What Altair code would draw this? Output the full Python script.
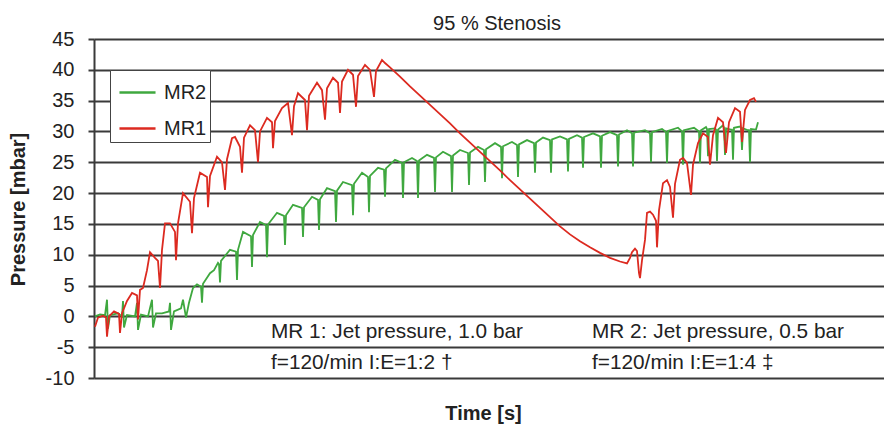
import altair as alt
import pandas as pd

# MR1 pressure trace: time index and pressure in mbar
mr1_t = [1, 4, 9, 12, 13, 15, 20, 25, 26, 28, 33, 38, 43, 44, 46, 49, 53, 56, 61, 64,
         66, 68, 71, 76, 81, 82, 84, 89, 96, 98, 100, 106, 113, 114, 116, 123, 128, 131, 133, 138,
         141, 146, 148, 150, 156, 161, 164, 166, 173, 178, 179, 181, 188, 194, 198, 200, 204, 211, 213, 215,
         223, 228, 231, 233, 239, 244, 246, 248, 254, 259, 262, 264, 271, 276, 280, 282, 288, 291,
         296, 306, 316, 326, 336, 346, 356, 366, 376, 386, 396, 406, 416, 426, 436, 446, 456,
         466, 476, 486, 496, 506, 516, 526, 533, 536, 538, 541, 543, 545, 546, 548, 551, 553,
         556, 559, 562, 563, 565, 569, 573, 576, 579, 581, 586, 589, 593, 597, 599, 604, 609, 614,
         616, 619, 624, 629, 632, 635, 641, 646, 648, 651, 656, 660, 662]
mr1_p = [-1.7, -0.2, 0.1, -0.2, -3.3, 0.0, 0.8, 0.4, -2.7, 0.5, 2.5, 3.8, 3.4, -0.5, 4.3, 4.6, 7.5, 10.4, 9.5, 9.0,
         4.6, 10.8, 15.1, 15.1, 13.7, 9.1, 15.1, 20.0, 18.6, 13.5, 19.2, 23.3, 22.6, 17.7, 22.8, 25.9, 25.0, 20.5, 25.5, 28.9,
         29.1, 27.5, 23.3, 29.0, 31.0, 30.2, 25.0, 30.0, 32.2, 31.5, 27.3, 31.7, 33.8, 34.6, 29.4, 34.1, 36.2, 35.1, 30.2, 35.8,
         37.9, 36.7, 31.9, 37.0, 38.7, 37.9, 33.0, 38.1, 40.0, 39.2, 34.0, 39.0, 40.8, 40.0, 35.6, 39.8, 41.6, 41.1,
         40.4, 38.9, 37.3, 35.8, 34.3, 32.8, 31.3, 29.7, 28.2, 26.7, 25.2, 23.7, 22.1, 20.6, 19.1, 17.6, 16.1,
         14.6, 13.3, 12.2, 11.2, 10.3, 9.5, 8.9, 8.6, 9.5, 10.4, 11.0, 10.6, 7.0, 6.2, 9.1, 12.4, 16.8,
         17.0, 16.5, 15.5, 11.2, 17.2, 21.6, 22.1, 21.0, 16.0, 21.5, 25.4, 25.7, 24.9, 19.7, 24.6, 28.1, 29.7, 29.1,
         24.6, 29.4, 32.2, 31.5, 26.5, 31.5, 33.8, 33.2, 28.3, 33.5, 35.1, 35.4, 34.8]

# MR2 pressure trace
mr2_t = [1, 6, 11, 13, 14, 16, 24, 28, 29, 30, 33, 41, 43, 44, 47, 54, 58, 59, 62, 68,
         75, 76, 77, 80, 87, 89, 92, 95, 99, 103, 107, 108, 109, 116, 120, 124, 125, 126, 127, 136,
         142, 143, 144, 149, 157, 158, 159, 166, 172, 173, 174, 183, 190, 191, 192, 199, 208, 209, 210, 218,
         224, 225, 226, 233, 241, 242, 243, 249, 258, 259, 260, 268, 274, 275, 276, 284, 290, 291, 292, 301,
         308, 309, 310, 318, 323, 324, 325, 333, 340, 341, 342, 349, 357, 358, 359, 366, 374, 375, 376, 384,
         390, 391, 392, 401, 407, 408, 409, 418, 423, 424, 425, 433, 440, 441, 442, 449, 456, 457, 458, 466,
         473, 474, 475, 483, 488, 489, 490, 499, 506, 507, 508, 516, 523, 524, 525, 533, 538, 539, 540, 551,
         556, 557, 558, 568, 572, 573, 574, 584, 588, 589, 590, 600, 605, 606, 607, 612, 613, 614, 615, 621,
         622, 623, 624, 629, 630, 631, 632, 637, 638, 639, 640, 646, 647, 648, 649, 654, 655, 656, 657, 662, 664]
mr2_p = [0.0, 0.3, 0.2, 2.7, -2.0, 0.2, 0.5, 0.0, 2.5, -1.8, 0.2, 0.0, 2.2, -2.2, 0.3, 0.0, 2.7, -1.8, 0.5, 0.5,
         0.8, 2.2, -2.2, 0.8, 1.3, 2.7, -0.2, 2.2, 4.6, 5.2, 4.8, 2.2, 5.3, 7.0, 7.5, 8.7, 8.5, 5.5, 9.0, 10.8,
         10.5, 5.9, 10.8, 13.7, 13.0, 8.0, 13.2, 15.3, 14.8, 9.6, 14.9, 16.8, 16.3, 11.6, 16.4, 18.1, 17.6, 12.9, 17.7, 19.4,
         18.9, 14.0, 19.0, 20.8, 20.3, 15.3, 20.4, 21.8, 21.3, 16.4, 21.5, 23.3, 22.6, 16.9, 22.8, 24.1, 23.8, 19.4, 24.0, 25.4,
         24.9, 19.2, 25.0, 25.7, 25.2, 19.2, 25.3, 26.2, 25.7, 20.2, 25.8, 26.7, 26.0, 20.2, 26.1, 27.0, 26.5, 21.3, 26.6, 27.5,
         27.0, 21.8, 27.1, 28.1, 27.5, 22.4, 27.6, 28.3, 27.8, 22.6, 27.9, 28.6, 28.1, 23.3, 28.2, 29.0, 28.6, 23.3, 28.7, 29.2,
         28.7, 23.5, 28.8, 29.4, 29.0, 24.1, 29.1, 29.7, 29.2, 24.1, 29.3, 29.9, 29.4, 24.3, 29.5, 30.2, 29.7, 24.3, 29.8, 30.2,
         29.7, 25.0, 29.9, 30.4, 29.9, 24.9, 30.1, 30.6, 30.0, 24.6, 30.2, 30.6, 30.0, 24.9, 30.2, 30.7, 30.4, 26.0, 30.4, 30.5,
         30.3, 25.2, 30.3, 31.0, 30.6, 26.2, 30.5, 30.3, 30.3, 25.4, 30.6, 30.8, 30.6, 27.0, 30.5, 30.2, 30.2, 25.0, 30.4, 30.3, 31.5]

y_ticks = [-10, -5, 0, 5, 10, 15, 20, 25, 30, 35, 40, 45]

notes_text = ["MR 1: Jet pressure, 1.0 bar", "f=120/min I:E=1:2 \u2020",
              "MR 2: Jet pressure, 0.5 bar", "f=120/min I:E=1:4 \u2021"]
notes_t = [177, 177, 498, 498]
notes_p = [-2.5, -7.5, -2.5, -7.5]

FONT = "Liberation Sans"
INK = "#222222"
GRID = "#3a3a3a"
GREEN = "#3fa83f"
RED = "#dc2a20"

mr1 = pd.DataFrame({"t": mr1_t, "p": mr1_p, "series": "MR1"})
mr2 = pd.DataFrame({"t": mr2_t, "p": mr2_p, "series": "MR2"})
notes = pd.DataFrame({"t": notes_t, "p": notes_p, "label": notes_text})

x_enc = alt.X(
    "t:Q",
    scale=alt.Scale(domain=[0, 790], nice=False, zero=False),
    axis=alt.Axis(title="Time [s]", labels=False, ticks=False, domain=False, grid=False,
                  titleFont=FONT, titleFontSize=20, titleFontWeight="bold", titleColor=INK,
                  titleX=389, titleY=35, titleBaseline="middle", titleAlign="center"),
)
y_enc = alt.Y(
    "p:Q",
    scale=alt.Scale(domain=[-10, 45], nice=False, zero=False),
    axis=alt.Axis(values=y_ticks, title="Pressure [mbar]", labelOverlap=False,
                  labelExpr="'' + datum.value",
                  labelFont=FONT, labelFontSize=20, labelColor=INK, labelPadding=14,
                  tickSize=6, tickColor=GRID, tickWidth=2,
                  domainColor=GRID, domainWidth=2,
                  gridColor=GRID, gridWidth=2,
                  titleFont=FONT, titleFontSize=20, titleFontWeight="bold", titleColor=INK,
                  titleX=-76, titleY=170, titleAngle=-90, titleBaseline="middle", titleAlign="center"),
)
color_enc = alt.Color(
    "series:N",
    scale=alt.Scale(domain=["MR2", "MR1"], range=[GREEN, RED]),
    legend=alt.Legend(title=None, orient="none", legendX=16, legendY=31,
                      symbolType="stroke", symbolSize=1300, symbolStrokeWidth=2.5, symbolOffset=5,
                      labelFont=FONT, labelFontSize=20, labelColor=INK, labelOffset=7,
                      labelExpr="datum.label + '   '",
                      rowPadding=6, padding=3, fillColor="white", strokeColor="#444444"),
)

green_line = alt.Chart(mr2).mark_line(strokeWidth=1.8).encode(x=x_enc, y=y_enc, color=color_enc)
red_line = alt.Chart(mr1).mark_line(strokeWidth=1.8).encode(x=x_enc, y=y_enc, color=color_enc)
note_marks = alt.Chart(notes).mark_text(align="left", baseline="middle", font=FONT, fontSize=20.8,
                                        color=INK).encode(x=x_enc, y=y_enc, text="label:N")

chart = (
    alt.layer(green_line, red_line, note_marks)
    .properties(
        width=790, height=339,
        padding={"left": 94, "top": 39, "right": 0, "bottom": 50},
        autosize=alt.AutoSizeParams(type="none"),
        title=alt.TitleParams("95 % Stenosis", font=FONT, fontSize=20, fontWeight="normal",
                              color=INK, anchor="middle", dx=8, offset=-5),
    )
    .configure_view(stroke=None)
    .configure_legend(strokeWidth=2)
    .configure(background="white")
)

chart.save("out.html", embed_options={"renderer": "svg", "actions": False})
